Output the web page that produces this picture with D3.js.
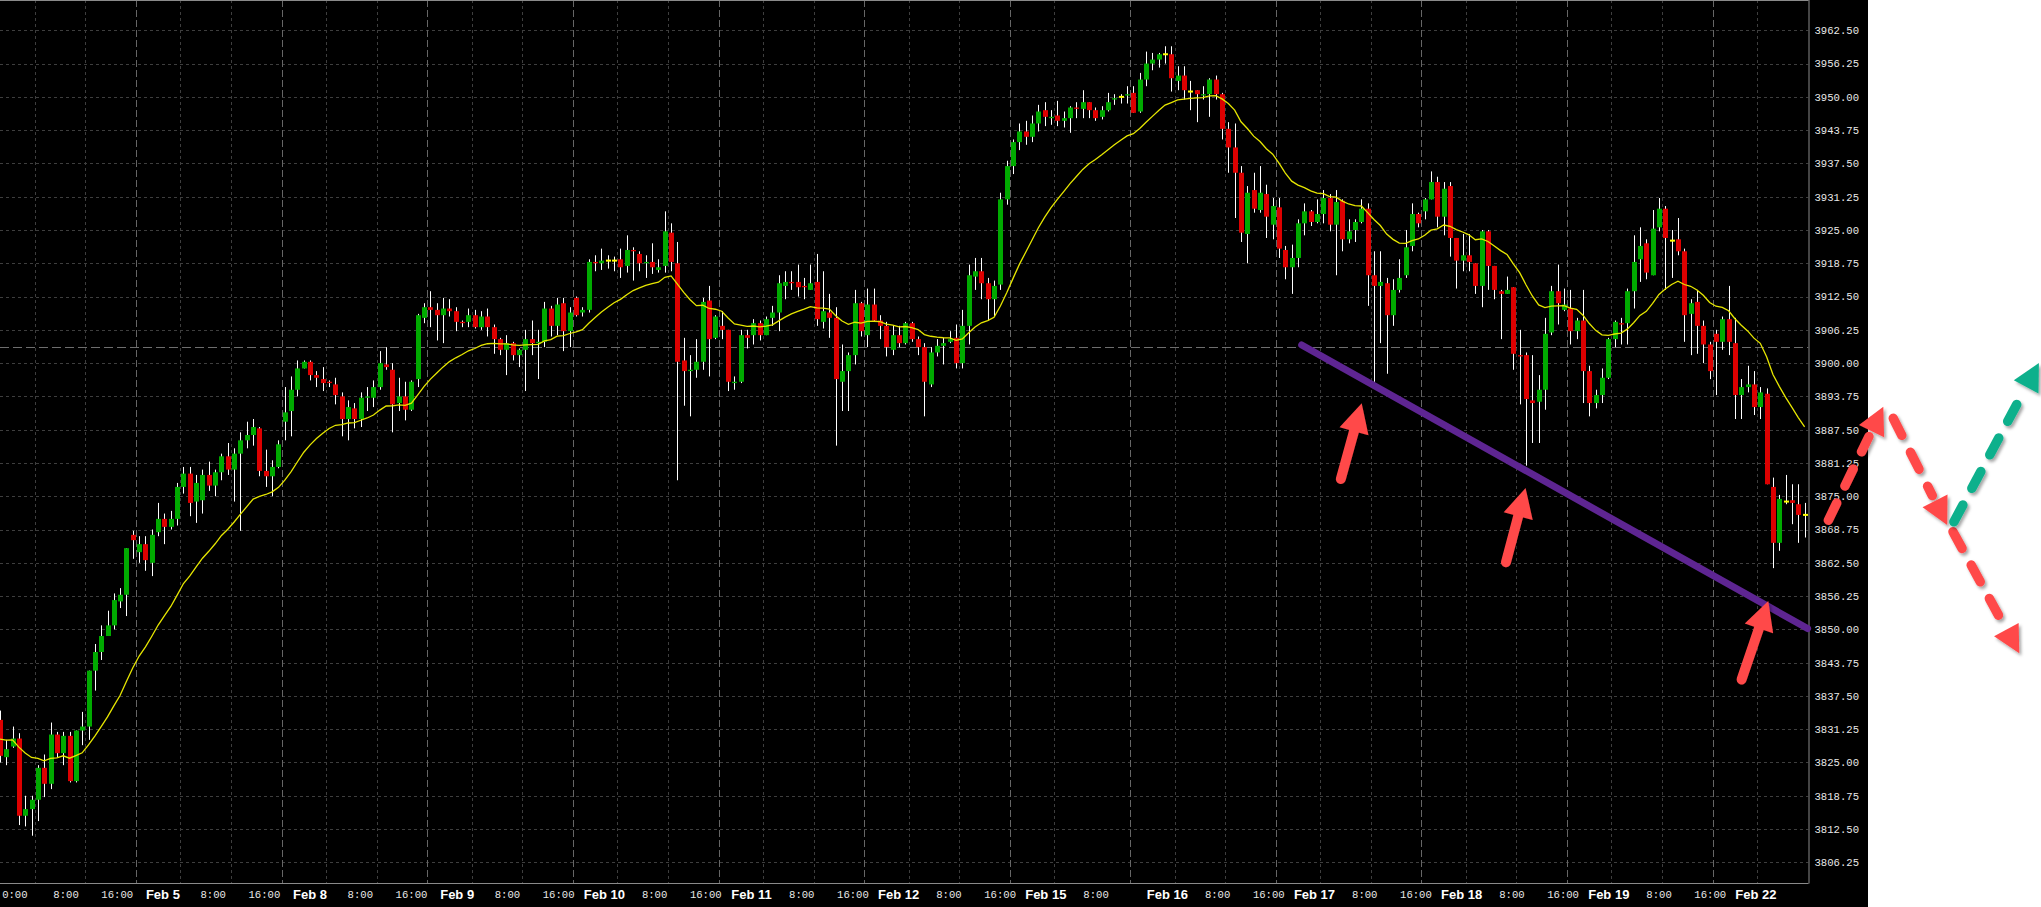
<!DOCTYPE html>
<html><head><meta charset="utf-8">
<script src="https://cdn.jsdelivr.net/npm/d3@7"></script>
<style>html,body{margin:0;padding:0;background:#fff;overflow:hidden}</style>
</head><body><svg id="c" width="2041" height="907"></svg>
<script>
// ---- DATA (hourly bars, [open, high, low, close]) ----
const ohlc = [
// 0 (Feb 4 session, partial)
[3833,3834.75,3825,3826.25],[3826,3829.25,3824.5,3827.5],[3828,3831.75,3827.75,3829.5],[3829.5,3830.5,3813.25,3815],
[3815,3818.75,3813,3816.25],[3816.25,3818.75,3811.25,3818],[3818,3824.5,3814,3824],[3824,3826.5,3818.5,3821],
[3821,3832.5,3820,3830.25],[3830.25,3830.75,3826,3826.75],[3826.75,3830.75,3824.5,3830],[3830,3830.75,3821.25,3821.5],
[3821.5,3831,3821.25,3831],[3831,3834.5,3828.25,3831.75],[3831.75,3842.25,3829.25,3842.25],[3842.25,3847.25,3838.5,3845.75],
[3845.75,3850.75,3844.25,3848.75],[3848.75,3853.5,3848.75,3850.75],[3850.75,3856.75,3850,3855.5],[3855.25,3857.75,3854,3856.5],
[3856.5,3865.25,3852.5,3865.25],[3867.75,3868.5,3863.25,3866.75],
// 22 Feb 5
[3864.5,3867.5,3862.5,3866],[3866,3867.5,3861,3863],[3862.5,3868.75,3860,3867.75],[3868.25,3873.75,3867.5,3870.75],
[3870.75,3871.75,3866,3869.25],[3869.25,3872.25,3868.75,3870.75],[3870.75,3877.5,3869.5,3876.75],[3876.75,3880.5,3875.5,3879.25],
[3879.25,3880.5,3871.25,3873.75],[3874,3879,3870,3877.5],[3874.25,3880,3871.75,3879],[3879,3881.5,3876,3877],
[3877,3880,3875,3879.5],[3879.5,3883,3878,3882.5],[3882.5,3885,3879,3880],[3880,3884,3874,3883],
[3883,3887,3868.5,3885.5],[3885.5,3889,3884,3886.5],[3886.5,3889.5,3884.5,3888],[3887.75,3888,3878.75,3879.75],
[3879.75,3883.75,3876.75,3878.75],[3878.75,3881.75,3875,3880.5],[3880.5,3885.5,3880.25,3884.75],
// 45 Feb 8
[3889,3895.5,3885.5,3890.75],[3891,3897.5,3886.25,3895],[3895,3900.5,3893.75,3899],[3899,3900.5,3899,3900.25],
[3900.25,3900.5,3896.75,3897.75],[3897.75,3898.5,3895.5,3897.25],[3897,3899.25,3894.75,3896.25],[3896.5,3896.75,3895.5,3896.25],
[3896,3897.25,3892.25,3894],[3893.75,3894.5,3886.25,3889.5],[3889.5,3893,3885.5,3891.75],[3891.5,3892.5,3887.75,3889.5],
[3889.5,3894.5,3888,3893.5],[3893.5,3895.5,3891,3893.75],[3893.5,3896.75,3891.75,3895.5],[3895.5,3902.25,3895,3900],
[3899.75,3903,3898.75,3899.25],[3898.75,3900,3887,3892.25],[3892.5,3897.25,3891,3893.75],[3893.75,3896.5,3889.25,3891.25],
[3891.25,3896.75,3891,3896.5],[3897,3909.25,3895.5,3909],[3908.5,3911.25,3907.5,3910.5],
// 68 Feb 9
[3910.5,3913.5,3906.75,3910],[3910,3911.25,3904.25,3909],[3909,3912.25,3903.75,3910.25],[3910.25,3912,3908.75,3909.75],
[3909.75,3910.5,3906,3907.75],[3907.75,3908,3906.75,3907.5],[3907.75,3910.25,3906.75,3909],[3909,3910,3906.5,3906.75],
[3906.75,3909.75,3906.25,3908.75],[3908.75,3910.25,3905,3906.75],[3906.75,3907.25,3901.75,3904.5],[3904.5,3904.75,3901.5,3902.5],
[3902.5,3905.25,3897.75,3903.75],[3903.75,3904,3900.5,3901.5],[3901.5,3902.75,3899.25,3902.5],[3902.5,3906.25,3894.75,3904.5],
[3904.5,3908,3901.5,3903.75],[3903.75,3906.25,3897,3904],[3904,3911.5,3903,3910.25],[3910.25,3910.75,3905,3907],
[3907,3912.25,3905.25,3911],[3911.25,3912.25,3902.25,3906],[3906,3910.5,3903,3909.5],
// 91 Feb 10
[3912.25,3912.5,3908.75,3909],[3909.5,3910.5,3908.75,3910],[3910,3919.5,3909.5,3919],[3919,3920.25,3917.25,3918.75],
[3918.75,3921.5,3917.5,3919.25],[3919.25,3920.25,3917.75,3919.25],[3919.25,3920,3917.25,3919.25],[3919.5,3921.5,3916,3918],
[3918.25,3924,3917,3921.25],[3921.25,3921.75,3915.5,3921],[3920.5,3921,3917.25,3918.75],[3918.75,3920.25,3916,3919],
[3919,3922.5,3916.75,3918],[3917.5,3919.5,3917,3918],[3918.25,3928.5,3917,3924.75],[3924.5,3926.25,3917.25,3919],
[3918.75,3922.75,3878,3900.25],[3900.5,3904.75,3892,3898.5],[3898.5,3901.5,3890,3898.75],[3898.75,3904.5,3897.25,3900.25],
[3900.25,3912.25,3898.75,3911.5],[3911.75,3914.5,3897.5,3904.5],[3904.75,3909,3904.5,3908.75],
// 114 Feb 11
[3907,3909.75,3904.5,3906.25],[3906.25,3906.25,3894.75,3896.5],[3896.25,3897.5,3895,3896.5],[3896.5,3906.25,3896.25,3905.25],
[3905.25,3906.25,3902.75,3904.75],[3905.25,3908.25,3903.5,3907.5],[3907.5,3908,3904.25,3905.25],[3905.25,3908.75,3905.25,3908.25],
[3908.5,3910.75,3907,3909.5],[3909.5,3916.5,3906,3915],[3914.5,3917.25,3912,3915.25],[3915.25,3917.25,3913.75,3915],
[3915.25,3918.5,3912.5,3914.25],[3914.5,3916,3912,3914.25],[3913.75,3918.5,3913.75,3915],[3915.25,3920.5,3907,3908.25],
[3907.75,3917.25,3906.5,3909.75],[3909.5,3913,3904.75,3908.5],[3908.5,3910.5,3884.5,3897],[3896.5,3903.5,3891,3898.5],
[3898.5,3902,3891,3901.5],[3901.5,3913.75,3899.75,3911.25],[3911.25,3911.5,3905,3906],
// 137 Feb 12
[3905.25,3914,3903,3911],[3911,3914,3907.75,3908],[3908,3909,3904.5,3907],[3907,3907.75,3901.25,3903],
[3902.5,3907,3901.5,3905.25],[3905.25,3907,3903,3903.75],[3903.75,3907.75,3903.5,3907.5],[3907.5,3907.75,3904,3904.5],
[3904.5,3905,3901.5,3903],[3903,3903.75,3890,3896.5],[3896,3903,3895.5,3902],[3902,3904.5,3901.25,3903.25],
[3903.25,3904.75,3899.75,3903.75],[3904,3906,3903.75,3904.5],[3904.75,3907.25,3899,3900],[3900,3910,3899,3907],
[3907,3918.5,3903.5,3916.5],[3916.25,3919.75,3913.75,3917.25],[3917.25,3919.75,3912,3915],[3915,3916,3908,3912],
[3912,3915.5,3908.75,3914.5],[3914.75,3932,3913.75,3930.75],[3930.75,3938,3929.75,3937],
// 160 Feb 15 (short session)
[3937,3942,3935.5,3941.5],[3941.5,3945,3940,3943.5],[3943.5,3945.5,3941,3942.5],[3942.5,3946.5,3941.5,3945],
[3945,3948.5,3943.5,3947.25],[3947.5,3949,3944.5,3946.25],[3946,3947.5,3944.75,3946.25],[3946.5,3949.25,3944.5,3945.5],
[3945.5,3947.25,3944.25,3946],[3946,3948.25,3943.25,3948],[3948,3949,3946,3947.75],[3947.75,3951.25,3946,3949],
[3949,3949,3946,3947.5],[3947.5,3948,3945.5,3946],[3946.25,3948.25,3945.75,3947.5],[3947.5,3950.75,3947.25,3949],
[3949.5,3950.5,3948.5,3949.75],[3950,3950.5,3948.75,3950],[3950.25,3952,3948.75,3950.5],
// 179 Feb 16
[3950.75,3952,3947,3947],[3947.25,3954.5,3947,3953.25],[3953.25,3958.5,3952,3956.25],[3956.25,3958.25,3955,3957],
[3957,3958.25,3955.5,3958],[3958,3959.5,3956.25,3958],[3958,3959.5,3951,3953.5],[3953,3955.75,3951.25,3954],
[3954,3955.75,3949.5,3951.25],[3951,3953,3947.5,3951],[3951.25,3951.25,3945.25,3950.5],[3950.25,3952,3949.5,3950.5],
[3950.5,3953.5,3946.25,3953.25],[3953.25,3954,3949.5,3950.5],[3950.5,3950.75,3942,3944],[3944,3945.25,3935.75,3940.5],
[3940.5,3945,3927.25,3935.75],[3935.75,3937,3922.75,3924.5],[3924.25,3933.25,3918.75,3932],[3932.5,3935.75,3928.25,3929],
[3928.75,3937,3928.25,3932],[3931.75,3933.5,3923.5,3927.5],[3926,3931,3923.25,3929.5],
// 202 Feb 17
[3929.25,3931,3919.75,3921.5],[3921.25,3922,3915.75,3918],[3918,3922.25,3913,3919.75],[3919.75,3927,3918,3926.25],
[3926.25,3930,3924,3928.5],[3928.5,3928.75,3925.75,3926.5],[3926.5,3930.75,3926.25,3928],[3928,3932.5,3926.25,3931],
[3931,3931.75,3924.75,3926],[3926,3932.5,3916.5,3930.25],[3930.5,3930.75,3921,3923.25],[3923.25,3927,3922.5,3924.75],
[3925,3927,3922.75,3926.5],[3926.5,3930.75,3926.25,3929],[3929,3930,3910.75,3916.5],[3916.5,3921,3896.5,3914.5],
[3914.5,3921,3903.75,3915.25],[3915,3916,3898,3909],[3909,3915.75,3907,3913.75],[3913.75,3919.5,3913.25,3916],
[3916.5,3925,3916,3921.75],[3922,3930,3921,3928],[3928,3928.25,3925.5,3926.25],
// 225 Feb 18
[3928.5,3931,3927,3930.75],[3930.75,3936,3930.75,3934],[3934,3935,3925.5,3927.5],[3927.5,3934,3924,3932.75],
[3933.25,3934,3920,3923.5],[3923.5,3923.5,3914,3919.25],[3919.25,3924.25,3917.25,3920.25],[3920.25,3924.25,3917.25,3919],
[3918.75,3918.75,3913,3914.5],[3914.5,3925,3910.5,3924.75],[3924.75,3925,3913.75,3918.25],[3918.25,3918.25,3912,3913.75],
[3913.5,3913.75,3904.5,3913],[3913,3916.25,3913,3913.75],[3914.25,3914.25,3898.75,3901.75],[3901.5,3906.25,3892.25,3901.25],
[3901.5,3902,3880.75,3893.25],[3893,3901.5,3885,3892.5],[3892.75,3897.75,3885,3895],[3895,3908.5,3891.25,3905.5],
[3905.75,3914.5,3905.25,3913.5],[3913.5,3918.5,3907.25,3911.25],[3910,3914,3909.75,3911],
// 248 Feb 19
[3910.25,3913.75,3903.5,3906],[3906,3908.5,3904.5,3908],[3908,3913.75,3892.5,3898.5],[3898.5,3899.5,3890,3892.5],
[3892.5,3895,3891.5,3894],[3894,3899,3892.5,3897.25],[3897.25,3904.75,3897,3904.5],[3904.5,3908,3903,3907.75],
[3907.5,3908.5,3903.5,3907.25],[3907.5,3914,3903.5,3913.5],[3913.5,3924,3910.25,3919],[3919.5,3925.5,3915.25,3922],
[3922.5,3923.25,3915.75,3917],[3916.5,3928.75,3916.5,3925.25],[3925.5,3931,3924.75,3929],[3929,3929.5,3913.75,3923.5],
[3923,3925,3916,3923],[3923.25,3927.25,3920.25,3921],[3921,3921.5,3904,3909],[3909.25,3912,3901.5,3911.25],
[3911.5,3913.75,3901.75,3907],[3907,3908,3900,3903.5],[3903.5,3904,3897,3898.5],
// 271 Feb 22 (partial)
[3905.5,3906.25,3894,3904],[3904,3908.75,3902.5,3908.25],[3908.25,3914.5,3901.5,3904],[3903.75,3908.5,3889.5,3894],
[3894,3897,3889.5,3895.5],[3895.5,3899.5,3894.5,3896],[3896,3898.5,3890.25,3891.75],[3891.75,3895.5,3889.5,3894.5],
[3894.25,3895.25,3877.25,3877.25],[3876.75,3878.5,3861.5,3866.25],[3866.25,3875.25,3864.75,3874.5],[3874,3879,3873.5,3874],
[3874.25,3877.25,3869.75,3873.75],[3873.5,3877.25,3866.25,3871.5],[3871.5,3873.75,3867.25,3871.5]
];
const maPeriod = 20;           // exponential moving average period
const maStart = 3829.4;        // MA value at the first visible bar
const priceTicks = d3.range(3806.25, 3962.5 + 0.01, 6.25);
const dayNames  = ["Feb 5","Feb 8","Feb 9","Feb 10","Feb 11","Feb 12","Feb 15","Feb 16","Feb 17","Feb 18","Feb 19","Feb 22"];
const dayStarts = [22,45,68,91,114,137,160,179,202,225,248,271];
const hourTickBars   = [-2.5,5.5,13.5,28.5,36.5,51.5,59.5,74.5,82.5,97.5,105.5,120.5,128.5,143.5,151.5,166.5,185.5,193.5,208.5,216.5,231.5,239.5,254.5,262.5,277.5];
const hourTickLabels = ["0:00","8:00","16:00","8:00","16:00","8:00","16:00","8:00","16:00","8:00","16:00","8:00","16:00","8:00","16:00","8:00","8:00","16:00","8:00","16:00","8:00","16:00","8:00","16:00",""];
const refPrice = 3903.1;       // horizontal dashed level
// annotations in (bar index, price)
const trendLine = [[205.58,3903.4],[285.47,3850.16]];
const solidArrows = [[[211.76,3878.24],[215.06,3892.45]],[[237.84,3862.6],[240.94,3876.53]],[[275.05,3840.6],[279.26,3855.33]]];
const dashedArrows = [
  {from:[288.75,3870.5], to:[297.43,3891.8], color:"#ff4a4a"},
  {from:[299.0,3889.63], to:[307.52,3869.6], color:"#ff4a4a"},
  {from:[308.43,3868.34], to:[318.9,3845.5], color:"#ff4a4a"},
  {from:[308.58,3870.2], to:[322.0,3900.0], color:"#10b08c"}
];

// ---- LAYOUT ----
const W = 2041, H = 907, plotR = 1808.5, plotB = 883, darkW = 1868;
const svg = d3.select("#c");
const x = d3.scaleLinear().domain([0, 285]).range([-0.15, 1804.61]);
const y = d3.scaleLinear().domain([3802.37, 3968.19]).range([plotB, 0]);

const defs = svg.append("defs");
defs.append("clipPath").attr("id","plot").append("rect").attr("x",0).attr("y",0).attr("width",plotR).attr("height",plotB);
const f = defs.append("filter").attr("id","sh").attr("x","-50%").attr("y","-50%").attr("width","200%").attr("height","200%");
f.append("feDropShadow").attr("dx",2).attr("dy",2.5).attr("stdDeviation",1.8).attr("flood-color","#000").attr("flood-opacity",0.35);

svg.append("rect").attr("width",W).attr("height",H).attr("fill","#fff");
svg.append("rect").attr("width",darkW).attr("height",H).attr("fill","#000");

const plot = svg.append("g").attr("clip-path","url(#plot)");
// horizontal grid
plot.append("g").selectAll("line").data(priceTicks).join("line")
  .attr("x1",0).attr("x2",plotR).attr("y1",d=>Math.round(y(d))+0.5).attr("y2",d=>Math.round(y(d))+0.5)
  .attr("stroke","#3e3e3e").attr("stroke-dasharray","3,3");
// vertical grid: hours (dotted) & day separators (dashed)
plot.append("g").selectAll("line").data(hourTickBars).join("line")
  .attr("x1",d=>Math.round(x(d))+0.5).attr("x2",d=>Math.round(x(d))+0.5).attr("y1",0).attr("y2",plotB)
  .attr("stroke","#3e3e3e").attr("stroke-dasharray","3,3");
plot.append("g").selectAll("line").data(dayStarts).join("line")
  .attr("x1",d=>Math.round(x(d-0.5))+0.5).attr("x2",d=>Math.round(x(d-0.5))+0.5).attr("y1",0).attr("y2",plotB)
  .attr("stroke","#666").attr("stroke-dasharray","7,3");
// reference dashed level
plot.append("line").attr("x1",0).attr("x2",plotR).attr("y1",Math.round(y(refPrice))+0.5).attr("y2",Math.round(y(refPrice))+0.5)
  .attr("stroke","#6e6e6e").attr("stroke-dasharray","9,4");

// candles
const cg = plot.append("g");
const bars = cg.selectAll("g").data(ohlc).join("g");
bars.append("line")
  .attr("x1",(d,i)=>Math.round(x(i))+0.5).attr("x2",(d,i)=>Math.round(x(i))+0.5)
  .attr("y1",d=>y(d[1])).attr("y2",d=>y(d[2])).attr("stroke","#fff").attr("stroke-width",1);
bars.append("rect")
  .attr("x",(d,i)=>Math.round(x(i))-2).attr("width",5)
  .attr("y",d=> d[0]===d[3] ? y(d[0])-1 : y(Math.max(d[0],d[3])))
  .attr("height",d=> d[0]===d[3] ? 2 : Math.max(1, y(Math.min(d[0],d[3]))-y(Math.max(d[0],d[3]))))
  .attr("fill",d=> d[0]===d[3] ? "#ffff00" : (d[3]>d[0] ? "#00aa00" : "#dd0000"));

// moving average (EMA of closes)
const k = 2/(maPeriod+1);
const ma = [];
ohlc.forEach((d,i)=>{ ma.push(i===0 ? maStart : ma[i-1] + k*(d[3]-ma[i-1])); });
plot.append("path").datum(ma)
  .attr("d", d3.line().x((d,i)=>x(i)).y(d=>y(d)))
  .attr("fill","none").attr("stroke","#e6e600").attr("stroke-width",1.3);

// frame
svg.append("line").attr("x1",0).attr("x2",plotR).attr("y1",0.5).attr("y2",0.5).attr("stroke","#8a8a8a");
svg.append("line").attr("x1",0).attr("x2",plotR).attr("y1",plotB+0.5).attr("y2",plotB+0.5).attr("stroke","#8a8a8a");

// right axis
const yAxis = d3.axisRight(y).tickValues(priceTicks).tickFormat(d3.format(".2f")).tickSize(0).tickSizeOuter(0).tickPadding(6);
const ya = svg.append("g").attr("transform",`translate(${plotR},0)`).call(yAxis);
ya.select(".domain").attr("stroke","#8a8a8a").attr("d",`M0.5,0V${plotB+0.5}`);
ya.selectAll("text").attr("fill","#e8e8e8").attr("font-family","'Liberation Mono', monospace").attr("font-size","10.6px");

// bottom labels
const lx = v => v*1.0103;
const xl = svg.append("g");
xl.selectAll("text.h").data(hourTickBars).join("text").attr("class","h")
  .attr("x",d=>lx(x(d))+31).attr("y",897.5).attr("text-anchor","middle")
  .attr("fill","#e8e8e8").attr("font-family","'Liberation Mono', monospace").attr("font-size","10.6px")
  .text((d,i)=>hourTickLabels[i]);
xl.selectAll("text.d").data(dayStarts).join("text").attr("class","d")
  .attr("x",d=>lx(x(d-0.5))+25.5).attr("y",899).attr("text-anchor","middle")
  .attr("fill","#fff").attr("font-family","'Liberation Sans', Arial, sans-serif").attr("font-weight","bold").attr("font-size","13px")
  .text((d,i)=>dayNames[i]);

// ---- ANNOTATIONS ----
const ann = svg.append("g");
ann.append("line")
  .attr("x1",x(trendLine[0][0])).attr("y1",y(trendLine[0][1]))
  .attr("x2",x(trendLine[1][0])).attr("y2",y(trendLine[1][1]))
  .attr("stroke","#5e2592").attr("stroke-width",7).attr("stroke-linecap","round");

function drawArrow(g, from, to, color, opt){
  const tx=x(from[0]), ty=y(from[1]), px=x(to[0]), py=y(to[1]);
  const dx=px-tx, dy=py-ty, L=Math.hypot(dx,dy), ux=dx/L, uy=dy/L;
  const bx=px-ux*opt.hl, by=py-uy*opt.hl;
  const gg = g.append("g").attr("filter","url(#sh)");
  const ex = bx-ux*opt.gap, ey = by-uy*opt.gap;
  const ln = gg.append("line").attr("x1",tx).attr("y1",ty).attr("x2",ex).attr("y2",ey)
    .attr("stroke",color).attr("stroke-width",opt.w).attr("stroke-linecap","round");
  if(opt.dash) ln.attr("stroke-dasharray",opt.dash);
  const hw=opt.hw/2;
  gg.append("path").attr("d",`M${px},${py}L${bx-uy*hw},${by+ux*hw}L${bx+uy*hw},${by-ux*hw}Z`).attr("fill",color);
}
solidArrows.forEach(a=>drawArrow(ann,a[0],a[1],"#ff4a4a",{hl:29,hw:30,w:10,gap:-3}));
dashedArrows.forEach(a=>drawArrow(ann,a.from,a.to,a.color,{hl:27,hw:28,w:9.5,gap:6,dash:"19,19"}));
</script></body></html>
